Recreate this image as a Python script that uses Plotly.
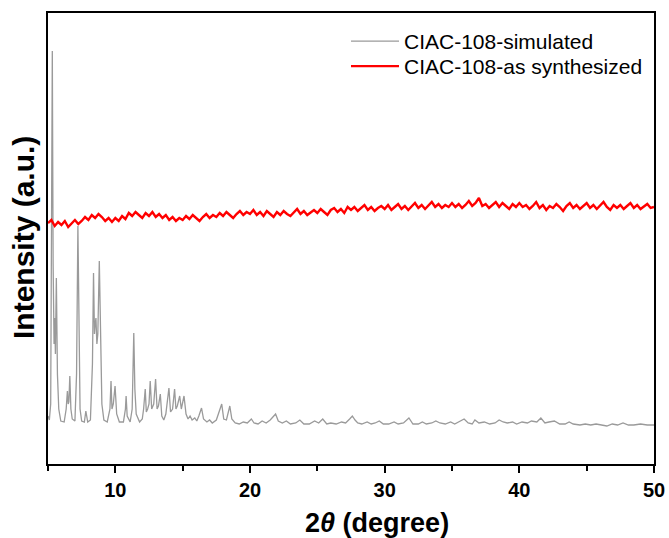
import numpy as np
import plotly.graph_objects as go

# ---- Simulated pattern (2theta, intensity) ----
sim_x = [5.0, 5.1, 5.2, 5.22, 5.27, 5.32, 5.38, 5.45, 5.5, 5.55, 5.62, 5.7, 5.8, 5.95,
         6.2, 6.35, 6.44, 6.5, 6.55, 6.62, 6.7, 6.8, 7.0, 7.05, 7.12, 7.22, 7.3, 7.38,
         7.5, 7.7, 7.81, 7.95, 8.15, 8.3, 8.38, 8.45, 8.5, 8.56, 8.63, 8.7, 8.81, 8.9,
         9.0, 9.15, 9.4, 9.6, 9.68, 9.75, 9.85, 9.98, 10.1, 10.3, 10.6, 10.75, 10.8,
         10.88, 11.1, 11.25, 11.37, 11.45, 11.55, 11.8, 12.0, 12.1, 12.22, 12.3, 12.4,
         12.5, 12.59, 12.7, 12.85, 12.99, 13.1, 13.2, 13.34, 13.45, 13.6, 13.75, 13.85,
         13.98, 14.1, 14.25, 14.4, 14.5, 14.6, 14.78, 14.9, 15.1, 15.25, 15.4, 15.55,
         15.7, 15.9, 16.05, 16.2, 16.4, 16.55, 16.8, 17.0, 17.2, 17.5, 17.65, 17.8, 17.9,
         18.05, 18.25, 18.5, 18.65, 18.9, 19.2, 19.5, 19.8, 20.1, 20.3, 20.6, 20.9, 21.2,
         21.5, 21.7, 21.9, 22.1, 22.4, 22.7, 23.0, 23.4, 23.7, 24.0, 24.4, 24.8, 25.1,
         25.4, 25.7, 26.0, 26.4, 26.8, 27.1, 27.4, 27.6, 27.8, 28.0, 28.3, 28.7, 29.0,
         29.3, 29.6, 29.9, 30.3, 30.7, 31.0, 31.4, 31.8, 32.1, 32.5, 32.8, 33.1, 33.5,
         33.8, 34.1, 34.5, 34.9, 35.2, 35.6, 35.9, 36.2, 36.5, 36.7, 37.0, 37.4, 37.8,
         38.2, 38.5, 38.8, 39.1, 39.5, 39.8, 40.2, 40.6, 40.9, 41.3, 41.6, 41.9, 42.2,
         42.6, 43.0, 43.4, 43.7, 44.0, 44.5, 44.9, 45.3, 45.7, 46.1, 46.5, 46.9, 47.3,
         47.7, 48.1, 48.5, 49.0, 49.5, 50.0]
sim_y = [48, 44, 60, 146, 373, 413, 200, 120, 146, 110, 186, 90, 55, 43,
         42, 55, 73, 60, 62, 88, 55, 45, 43, 70, 90, 238, 110, 55,
         43, 42, 53, 42, 44, 100, 191, 130, 140, 146, 120, 130, 203, 110,
         60, 44, 42, 55, 83, 55, 60, 78, 50, 42, 42, 55, 68,
         48, 42, 55, 131, 75, 50, 42, 45, 55, 75, 52, 55,
         60, 83, 55, 60, 85, 55, 58, 70, 48, 44, 50, 60,
         76, 52, 55, 75, 55, 58, 68, 55, 68, 50, 45, 48,
         44, 46, 43, 48, 56, 45, 42, 44, 41, 44, 50, 55, 60,
         45, 44, 58, 45, 41, 40, 42, 41, 45, 41, 40, 43, 41,
         44, 47, 50, 43, 41, 43, 40, 41, 44, 40, 40, 43, 41,
         45, 40, 41, 40, 42, 41, 45, 48, 44, 41, 40, 42, 40,
         41, 43, 40, 40, 42, 40, 41, 46, 40, 40, 42, 40, 41,
         43, 41, 40, 42, 40, 43, 45, 41, 40, 44, 41, 42, 40,
         41, 44, 42, 41, 42, 40, 42, 41, 43, 42, 46, 41, 42,
         43, 40, 40, 42, 40, 39, 40, 39, 40, 39, 38, 40, 39,
         41, 39, 39, 40, 39, 39]

# ---- As-synthesized pattern, sampled every 0.25 deg from 5 to 50 ----
syn_start = 5.0
syn_step = 0.25
syn_y = [241, 244, 238, 242, 239, 243, 237, 241, 244, 240,
         243, 247, 244, 249, 246, 250, 247, 243, 246, 242,
         246, 243, 248, 245, 251, 248, 252, 249, 246, 251,
         248, 252, 247, 250, 246, 249, 244, 247, 243, 246,
         244, 248, 245, 249, 246, 243, 247, 250, 246, 249,
         247, 251, 248, 252, 249, 246, 250, 253, 249, 252,
         250, 254, 249, 252, 248, 253, 250, 247, 252, 249,
         253, 250, 248, 252, 255, 250, 253, 249, 252, 254,
         251, 255, 252, 249, 254, 256, 252, 255, 251, 257,
         254, 257, 253, 256, 259, 254, 257, 253, 256, 258,
         255, 259, 254, 257, 260, 255, 258, 254, 257, 261,
         256, 259, 255, 258, 262, 257, 260, 256, 259, 257,
         261, 257, 260, 256, 259, 263, 258, 261, 266, 258,
         260, 256, 259, 262, 257, 261, 258, 255, 260, 257,
         261, 257, 259, 255, 258, 262, 256, 259, 254, 258,
         256, 260, 257, 253, 258, 261, 256, 259, 255, 258,
         261, 256, 259, 255, 258, 262, 257, 254, 259, 256,
         259, 255, 258, 261, 256, 259, 255, 258, 260, 256,
         257]
syn_x = [syn_start + i * syn_step for i in range(len(syn_y))]

names = ["CIAC-108-simulated", "CIAC-108-as synthesized"]
x_ticks = [10, 20, 30, 40, 50]
x_minor = [5, 15, 25, 35, 45]
x_title = "<b>2<i>θ</i> (degree)</b>"
y_title = "<b>Intensity (a.u.)</b>"

FONT = "Arial, Liberation Sans, sans-serif"
W, H = 669, 538
ML, MR, MT, MB = 48, 15, 13, 74
PW, PH = W - ML - MR, H - MT - MB


def px_to_paper(px, py):
    return (px - ML) / PW, (H - MB - py) / PH


fig = go.Figure()
fig.add_trace(go.Scatter(x=sim_x, y=sim_y, mode="lines", name=names[0],
                         legend="legend",
                         line=dict(color="#9a9a9a", width=1.3)))
fig.add_trace(go.Scatter(x=syn_x, y=syn_y, mode="lines", name=names[1],
                         legend="legend2",
                         line=dict(color="#ff0000", width=2.4)))

l1x, l1y = px_to_paper(346, 21)
l2x, l2y = px_to_paper(346, 46)
leg_common = dict(xanchor="left", yanchor="top", bgcolor="rgba(0,0,0,0)",
                  font=dict(size=21, family=FONT), itemwidth=48)
fig.update_layout(
    width=W, height=H,
    margin=dict(l=ML, r=MR, t=MT, b=MB, autoexpand=False),
    paper_bgcolor="white", plot_bgcolor="white",
    font=dict(family=FONT, color="black"),
    showlegend=True,
    legend=dict(x=l1x, y=l1y, **leg_common),
    legend2=dict(x=l2x, y=l2y, **leg_common),
)
fig.update_xaxes(
    range=[5, 50], showline=True, linecolor="black", linewidth=1.5, mirror=True,
    showgrid=False, zeroline=False, automargin=False,
    ticks="outside", ticklen=7, tickwidth=1.5, tickcolor="black",
    tickvals=x_ticks, ticktext=[f"<b>{v}</b>" for v in x_ticks],
    tickfont=dict(size=20, family=FONT),
    minor=dict(tickvals=x_minor, ticks="outside", ticklen=5,
               tickwidth=1.5, tickcolor="black"),
)
fig.update_yaxes(
    range=[0, 451], showline=True, linecolor="black", linewidth=1.5, mirror=True,
    showgrid=False, zeroline=False, showticklabels=False, ticks="",
    automargin=False,
)

tx, ty = px_to_paper(377, 523)
fig.add_annotation(x=tx, y=ty, xref="paper", yref="paper", text=x_title,
                   showarrow=False, xanchor="center", yanchor="middle",
                   font=dict(size=27, family=FONT))
yx, yy = px_to_paper(23, 238)
fig.add_annotation(x=yx, y=yy, xref="paper", yref="paper", text=y_title,
                   showarrow=False, xanchor="center", yanchor="middle",
                   textangle=-90, font=dict(size=30, family=FONT))

fig.write_html("out.html",
               config={"displayModeBar": False},
               post_script="document.body.style.margin='0';document.body.style.padding='0';")
